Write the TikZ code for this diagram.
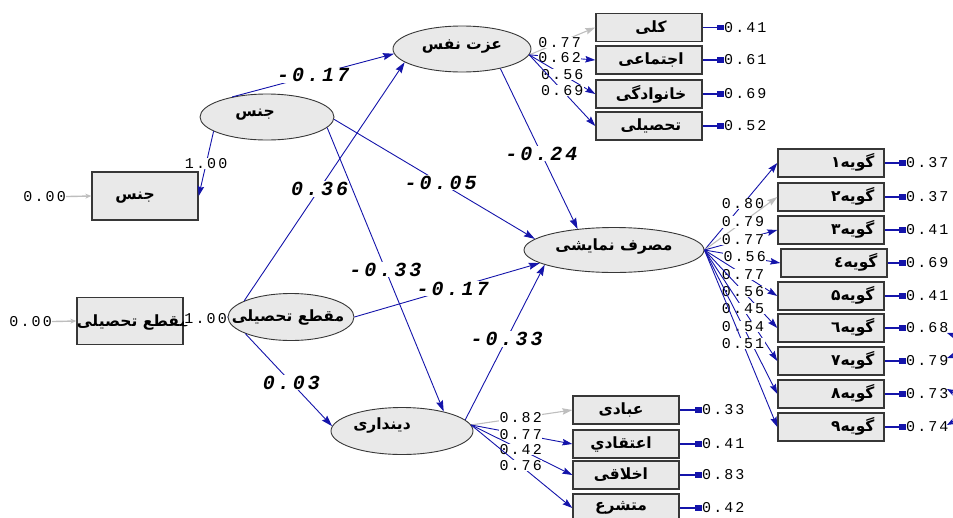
\documentclass[tikz,border=0pt]{standalone}
\usepackage{fontspec}
\usetikzlibrary{arrows.meta,shapes.geometric}
\TeXXeTstate=1
\newfontfamily\fafont[Script=Arabic]{DejaVu Sans}
\newfontfamily\numfont[LetterSpace=14]{Liberation Mono}
\newfontfamily\coeffont[LetterSpace=15]{Liberation Mono}
\newcommand\fa[1]{{\fafont\bfseries\beginR #1\endR}}

\definecolor{pathblue}{RGB}{20,20,170}
\definecolor{fixgrey}{RGB}{190,190,190}
\definecolor{boxfill}{RGB}{233,233,233}
\definecolor{edgegrey}{RGB}{55,55,55}

\tikzset{
  latent/.style={ellipse, draw=edgegrey, fill=boxfill, line width=0.9pt, inner sep=0pt},
  observed/.style={rectangle, draw=edgegrey, fill=boxfill, line width=1.4pt,
    minimum width=106pt, minimum height=28pt, inner sep=0pt},
  ptext/.style={font=\fontsize{15.5}{15.5}\selectfont, inner sep=0pt},
  effect/.style={draw=pathblue, line width=0.9pt, -{Stealth[length=11pt,width=7pt,inset=1.5pt]}},
  loading/.style={draw=pathblue, line width=0.9pt, -{Stealth[length=10pt,width=6.5pt,inset=1.5pt]}},
  fixedload/.style={draw=fixgrey, line width=1.1pt, -{Stealth[length=10pt,width=6.5pt,inset=1.5pt]}},
  fixederr/.style={draw=fixgrey, line width=1.4pt, -{Stealth[length=6pt,width=5pt]}},
  errline/.style={draw=pathblue, line width=1.6pt, {Rectangle[length=7pt,width=5.5pt]}-},
  covarc/.style={draw=pathblue, line width=1.3pt, {Stealth[length=8pt,width=6pt]}-{Stealth[length=8pt,width=6pt]}},
  coef/.style={font=\coeffont\bfseries\itshape\fontsize{20}{20}\selectfont, fill=white, inner sep=1pt},
  lval/.style={font=\numfont\fontsize{15}{15}\selectfont, fill=white, inner sep=0.5pt},
  eval/.style={font=\numfont\fontsize{15}{15}\selectfont, inner sep=0pt, anchor=west},
}

\begin{document}
\begin{tikzpicture}[x=1pt, y=-1pt]
\useasboundingbox (0,0) rectangle (953,517);

% ---------- latent variables ----------
\node[latent, minimum width=138pt, minimum height=46pt] (ezn) at (462,49) {};
\node[ptext] (ezn-t) at (462,47) {\fa{عزت نفس}};
\node[latent, minimum width=134pt, minimum height=46pt] (gE) at (267,117) {};
\node[ptext] (gE-t) at (255,115) {\fa{جنس}};
\node[latent, minimum width=126pt, minimum height=47pt] (mE) at (291,317) {};
\node[ptext] (mE-t) at (288,317) {\fa{مقطع تحصیلی}};
\node[latent, minimum width=142pt, minimum height=47pt] (dE) at (402,431) {};
\node[ptext] (dE-t) at (382,425) {\fa{دینداری}};
\node[latent, minimum width=180pt, minimum height=45pt] (sE) at (614,250) {};
\node[ptext] (sE-t) at (614,246) {\fa{مصرف نمایشی}};

% ---------- exogenous observed variables ----------
\node[observed, minimum height=48pt] (gR) at (145,196) {};
\node[ptext] (gR-t) at (135,198) {\fa{جنس}};
\node[observed, minimum height=47pt] (mR) at (130,321) {};
\node[ptext] (mR-t) at (133,322) {\fa{مقطع تحصیلی}};
\node[eval, anchor=east] (gR-e) at (66,197) {0.00};
\node[eval, anchor=east] (mR-e) at (52,322) {0.00};
\draw[fixederr] (gR-e) -- (gR.west);
\draw[fixederr] (mR-e) -- (mR.west);
\draw[loading] (gE.195) -- node[lval, pos=0.5] {1.00} (gR.east);
\draw[loading] (mE.west) -- node[lval, pos=0.5] {1.00} (mR.east);

% ---------- indicators of self-esteem ----------
\foreach \n/\y/\t/\e in {1/27.5/کلی/0.41, 2/60/اجتماعی/0.61, 3/94/خانوادگی/0.69, 4/126/تحصیلی/0.52}{
  \node[observed] (z\n) at (649,\y) {};
  \node[ptext] (z\n-t) at (651,\y) {\fa{\t}};
  \node[eval] (z\n-e) at (724,\y) {\e};
  \draw[errline] (z\n-e.west) -- (z\n.east);
}
\draw[fixedload] (ezn.-5) -- node[lval, pos=0.46] {0.77} (z1.west);
\draw[loading] (ezn.-5) -- node[lval, pos=0.46] {0.62} (z2.west);
\draw[loading] (ezn.-5) -- node[lval, pos=0.5] {0.56} (z3.west);
\draw[loading] (ezn.-5) -- node[lval, pos=0.5] {0.69} (z4.west);

% ---------- indicators of conspicuous consumption ----------
\foreach \n/\x/\y/\t/\e in {1/831/163/گویه۱/0.37, 2/831/197/گویه۲/0.37, 3/831/230/گویه۳/0.41,
    4/834/263/گویه٤/0.69, 5/831/296/گویه۵/0.41, 6/831/328/گویه٦/0.68,
    7/831/361/گویه۷/0.79, 8/831/394/گویه۸/0.73, 9/831/427/گویه۹/0.74}{
  \node[observed] (g\n) at (\x,\y) {};
  \node[ptext, anchor=east] (g\n-t) at ([xshift=-10pt,yshift=1pt]g\n.east) {\fa{\t}};
  \node[eval] (g\n-e) at (906,\y) {\e};
  \draw[errline] (g\n-e.west) -- (g\n.east);
}
\draw[loading] (sE.east) -- node[lval, pos=0.53] {0.80} (g1.west);
\draw[fixedload] (sE.east) -- node[lval, pos=0.53] {0.79} (g2.west);
\draw[loading] (sE.east) -- node[lval, pos=0.53] {0.77} (g3.west);
\draw[loading] (sE.east) -- node[lval, pos=0.53] {0.56} (g4.west);
\draw[loading] (sE.east) -- node[lval, pos=0.53] {0.77} (g5.west);
\draw[loading] (sE.east) -- node[lval, pos=0.53] {0.56} (g6.west);
\draw[loading] (sE.east) -- node[lval, pos=0.53] {0.45} (g7.west);
\draw[loading] (sE.east) -- node[lval, pos=0.53] {0.54} (g8.west);
\draw[loading] (sE.east) -- node[lval, pos=0.53] {0.51} (g9.west);

% correlated errors, running past the right edge
\coordinate (c6) at (947,333);
\coordinate (c7) at (947,358);
\coordinate (c8) at (947,389);
\coordinate (c9) at (947,425);
\draw[covarc] (c6) .. controls (962,338) and (962,353) .. (c7);
\draw[covarc] (c8) .. controls (960,396) and (960,418) .. (c9);

% ---------- indicators of religiosity ----------
\foreach \n/\y/\t/\e in {1/410/عبادی/0.33, 2/444/اعتقادي/0.41, 3/475/اخلاقی/0.83, 4/508/متشرع/0.42}{
  \node[observed] (d\n) at (626,\y) {};
  \node[ptext] (d\n-t) at (621,\y) {\fa{\t}};
  \node[eval] (d\n-e) at (702,\y) {\e};
  \draw[errline] (d\n-e.west) -- (d\n.east);
}
\draw[fixedload] (dE.5) -- node[lval, pos=0.49] {0.82} (d1.west);
\draw[loading] (dE.5) -- node[lval, pos=0.49] {0.77} (d2.west);
\draw[loading] (dE.5) -- node[lval, pos=0.49] {0.42} (d3.west);
\draw[loading] (dE.5) -- node[lval, pos=0.49] {0.76} (d4.west);

% ---------- structural paths ----------
\draw[effect] (gE.150) -- node[coef, pos=0.5] {-0.17} (ezn.184);
\draw[effect] (gE.-2) -- node[coef, pos=0.53] {-0.05} (sE.172);
\draw[effect] (gE.-10) -- node[coef, pos=0.5] {-0.33} (dE.25);
\draw[effect] (mE.161) -- node[coef, pos=0.47] {0.36} (ezn.193);
\draw[effect] (mE.east) -- node[coef, pos=0.53] {-0.17} (sE.190);
\draw[effect] (mE.200) -- node[coef, pos=0.53] {0.03} (dE.176);
\draw[effect] (ezn.-27) -- node[coef, pos=0.53] {-0.24} (sE.150);
\draw[effect] (dE.10) -- node[coef, pos=0.52] {-0.33} (sE.192);
\end{tikzpicture}
\end{document}
